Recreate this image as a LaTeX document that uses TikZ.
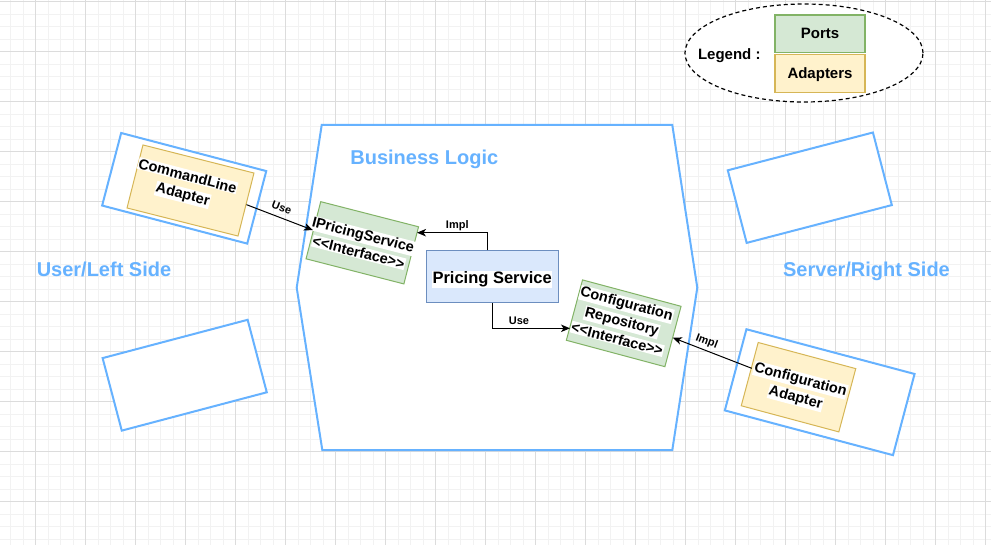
\documentclass[tikz,border=0pt]{standalone}
\usepackage{fontspec}
\setmainfont{Liberation Sans}[Ligatures=TeXOff]
\usetikzlibrary{arrows.meta,shapes.geometric}
\definecolor{lblue}{HTML}{66B2FF}
\definecolor{fgreen}{HTML}{D5E8D4}
\definecolor{pgreen}{HTML}{82B366}
\definecolor{fyellow}{HTML}{FFF2CC}
\definecolor{pyellow}{HTML}{D6B656}
\definecolor{fblue}{HTML}{DAE8FC}
\definecolor{pblue}{HTML}{6C8EBF}
\definecolor{gminor}{HTML}{F2F2F2}
\definecolor{gmajor}{HTML}{DCDCDC}
\newcommand\wl[1]{{\setlength{\fboxsep}{0.6pt}\colorbox{white}{#1}}}
\begin{document}
\begin{tikzpicture}[x=1pt,y=1pt,
 frame/.style={draw=lblue, line width=2pt, fill=white, inner sep=0pt},
 portbox/.style={draw=pgreen, fill=fgreen, line width=1pt, inner sep=0pt},
 adbox/.style={draw=pyellow, fill=fyellow, line width=1pt, inner sep=0pt},
 boxtext/.style={align=center, inner sep=0pt, font=\fontsize{14.5}{18.5}\selectfont\bfseries},
 elabel/.style={inner sep=0pt, font=\fontsize{11}{13}\selectfont\bfseries},
 sidetxt/.style={inner sep=0pt, text=lblue, font=\fontsize{20}{24}\selectfont\bfseries},
 legtxt/.style={inner sep=0pt, font=\fontsize{15}{18}\selectfont\bfseries},
 arr/.style={draw=black, line width=1pt, -{Stealth[length=9pt,width=7.5pt,inset=2.5pt]}},
]
\useasboundingbox (0,-545) rectangle (991,0);
\fill[white] (0,-545) rectangle (991,0);
\begin{scope}
\clip (0,-545) rectangle (991,0);
\begin{scope}[shift={(10.67,-1.7)}]
\draw[gminor, line width=1pt, step=12.5pt] (-25,-575) grid (1000,25);
\end{scope}
\begin{scope}[shift={(35.67,-1.7)}]
\draw[gmajor, line width=1pt, step=50pt] (-50,-600) grid (1000,50);
\end{scope}
\end{scope}

% Business logic hexagon
\draw[frame] (321.7,-125) -- (672.3,-125) -- (697.3,-287.7) -- (672.3,-450) -- (322.3,-450) -- (296.7,-287.7) -- cycle;
\node[sidetxt, anchor=base] (bl) at (424.3,-164.3) {Business Logic};
\node[sidetxt, anchor=base] (uls) at (104,-277) {User/Left Side};
\node[sidetxt, anchor=base] (srs) at (866.5,-277) {Server/Right Side};

% adapters frames
\node[frame, minimum width=150pt, minimum height=75pt, rotate=-14.7] (clf) at (184.2,-188.3) {};
\node[adbox, minimum width=114.5pt, minimum height=65pt, rotate=-14.2] (cli) at (190.5,-190.5) {};
\node[boxtext, rotate=-14.5] (clt) at (185,-186) {\wl{CommandLine}\\\wl{Adapter}};

\node[frame, minimum width=150pt, minimum height=75pt, rotate=14.8] (lbf) at (184.7,-375.2) {};
\node[frame, minimum width=150pt, minimum height=75pt, rotate=14.6] (rtf) at (809.8,-187.7) {};

\node[frame, minimum width=174pt, minimum height=84pt, rotate=-14.9] (caf) at (819.7,-392.2) {};
\node[adbox, minimum width=101pt, minimum height=65.5pt, rotate=-15] (cai) at (798.5,-387.2) {};
\node[boxtext, rotate=-15] (cat) at (798,-389) {\wl{Configuration}\\\wl{Adapter}};

% ports
\node[portbox, minimum width=101pt, minimum height=59pt, rotate=-14.4] (ips) at (362.3,-242.8) {};
\node[boxtext, rotate=-14.4] (ipst) at (361,-243.5) {\wl{IPricingService}\\\wl{<<Interface>>}};

\node[portbox, minimum width=102pt, minimum height=62.5pt, rotate=-15] (crp) at (623.7,-323.3) {};
\node[boxtext, rotate=-15] (crpt) at (622,-321) {\wl{Configuration}\\\wl{Repository}\\\wl{<<Interface>>}};

% pricing service
\node[draw=pblue, fill=fblue, line width=1pt, minimum width=132.3pt, minimum height=51.7pt, inner sep=0pt] (ps) at (492.15,-276.85) {};
\node[inner sep=0pt, anchor=base, font=\fontsize{16.5}{20}\selectfont\bfseries] (pst) at (492.15,-284) {\wl{Pricing Service}};

% connectors
\coordinate (impltip) at (417,-232.7);
\coordinate (usetip) at (570,-328.3);
\coordinate (implsrc) at (751.7,-368.3);
\coordinate (impl2tip) at (672.8,-337.7);
\draw[arr] (cli.east) -- (ips.west);
\node[elabel, rotate=-21] (use1) at (281.7,-207.7) {Use};
\draw[arr] ([xshift=-4.85pt]ps.north) |- (impltip);
\node[elabel, anchor=base] (impl1) at (457.3,-228.7) {Impl};
\draw[arr] (ps.south) |- (usetip);
\node[elabel, anchor=base] (use2) at (519,-324.3) {Use};
\draw[arr] (implsrc) -- (impl2tip);
\node[elabel, rotate=-21] (impl2) at (706.7,-341.7) {Impl};

% legend
\node[ellipse, draw=black, dash pattern=on 4pt off 3pt, line width=1.2pt, fill=white, minimum width=238pt, minimum height=98pt, inner sep=0pt] (legend) at (804,-53) {};
\node[portbox, line width=1.3pt, minimum width=90pt, minimum height=37.3pt] (lports) at (820,-33.65) {};
\node[adbox, line width=1.3pt, minimum width=90pt, minimum height=38pt] (ladap) at (820,-73.3) {};
\node[legtxt, anchor=base] (lportst) at (820,-39) {Ports};
\node[legtxt, anchor=base] (ladapt) at (820,-79) {Adapters};
\node[legtxt, anchor=base] (legt) at (729.3,-60) {Legend :};
\end{tikzpicture}
\end{document}
